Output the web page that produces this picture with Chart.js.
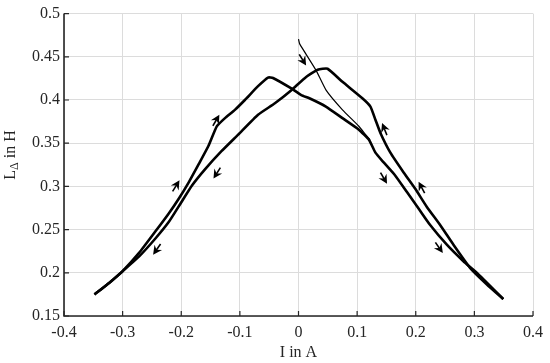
<!DOCTYPE html>
<html>
<head>
<meta charset="utf-8">
<script src="https://cdn.jsdelivr.net/npm/chart.js@4/dist/chart.umd.min.js"></script>
<style>
  html, body { margin: 0; padding: 0; background: #ffffff; }
  #wrap { width: 550px; height: 363px; position: relative; }
</style>
</head>
<body>
<div id="wrap"><canvas id="c" width="550" height="363"></canvas></div>
<script>
// ---- data ----
// Branch with increasing current (-0.35 -> +0.35)
const riseX = [-0.348, -0.3225, -0.300, -0.272, -0.244, -0.221, -0.204, -0.187, -0.170, -0.1535, -0.1394, -0.1254, -0.1085, -0.0915, -0.069, -0.052, -0.0435, -0.0122, 0.0047, 0.0186, 0.0467, 0.075, 0.103, 0.1202, 0.1312, 0.1453, 0.1652, 0.185, 0.2048, 0.2246, 0.253, 0.2813, 0.304, 0.3493];
const riseY = [0.175, 0.1886, 0.202, 0.223, 0.248, 0.269, 0.286, 0.305, 0.326, 0.347, 0.3695, 0.379, 0.3886, 0.400, 0.416, 0.426, 0.4255, 0.4134, 0.4057, 0.402, 0.3924, 0.379, 0.3657, 0.354, 0.3391, 0.3277, 0.3124, 0.2934, 0.2744, 0.2553, 0.2325, 0.2134, 0.2001, 0.1696];
// Branch with decreasing current (+0.35 -> -0.35)
const fallX = [0.3493, 0.321, 0.2926, 0.2643, 0.2416, 0.219, 0.1992, 0.1793, 0.1567, 0.1397, 0.1312, 0.1227, 0.1089, 0.075, 0.0496, 0.0327, 0.013, -0.0122, -0.0403, -0.069, -0.1028, -0.131, -0.1592, -0.1817, -0.2014, -0.2211, -0.2437, -0.2718, -0.300, -0.3225, -0.348];
const fallY = [0.1696, 0.1868, 0.2058, 0.2325, 0.2553, 0.2762, 0.2972, 0.3162, 0.3391, 0.3619, 0.3772, 0.3924, 0.402, 0.421, 0.4362, 0.435, 0.4267, 0.4114, 0.3962, 0.383, 0.360, 0.341, 0.320, 0.301, 0.280, 0.259, 0.240, 0.219, 0.2019, 0.1886, 0.175];
// Initial (virgin) curve
const initX = [0.000, 0.002, 0.030, 0.047, 0.075, 0.103, 0.1145, 0.122];
const initY = [0.4705, 0.465, 0.4343, 0.4114, 0.3886, 0.3696, 0.360, 0.354];
// Direction arrows: tip position and screen direction (degrees)
const arrowX = [-0.135, -0.203, -0.145, -0.248, 0.013, 0.1425, 0.151, 0.2048, 0.2462];
const arrowY = [0.383, 0.307, 0.309, 0.221, 0.440, 0.3733, 0.303, 0.3055, 0.2229];
const arrowDir = [-60, -58, 122, 125, 58, -112, 60, -118, 55];
// Axes
const xMin = -0.4, xMax = 0.4, xStep = 0.1;
const yMin = 0.15, yMax = 0.5, yStep = 0.05;
const xTitle = "I in A";
const yTitleMain = "L", yTitleSub = "\u0394", yTitleRest = " in H";

const toPts = (xs, ys) => xs.map((x, i) => ({ x: x, y: ys[i] }));
const AXIS = '#262626';
const FONT = '"Liberation Serif", "Times New Roman", serif';

const arrowPlugin = {
  id: 'arrows',
  afterDatasetsDraw(chart) {
    const ctx = chart.ctx, xs = chart.scales.x, ys = chart.scales.y;
    ctx.save();
    ctx.fillStyle = '#000';
    ctx.strokeStyle = '#000';
    ctx.lineWidth = 1.6;
    for (let i = 0; i < arrowX.length; i++) {
      const px = xs.getPixelForValue(arrowX[i]);
      const py = ys.getPixelForValue(arrowY[i]);
      ctx.save();
      ctx.translate(px, py);
      ctx.rotate(arrowDir[i] * Math.PI / 180);
      ctx.beginPath();
      ctx.moveTo(-5, 0);
      ctx.lineTo(-13, 0);
      ctx.stroke();
      ctx.beginPath();
      ctx.moveTo(0, 0);
      ctx.lineTo(-9, -4.6);
      ctx.lineTo(-6, 0);
      ctx.lineTo(-9, 4.6);
      ctx.closePath();
      ctx.fill();
      ctx.restore();
    }
    ctx.restore();
  }
};

const axesPlugin = {
  id: 'matlabAxes',
  afterDraw(chart) {
    const ctx = chart.ctx, xs = chart.scales.x, ys = chart.scales.y;
    const a = chart.chartArea;
    ctx.save();
    ctx.strokeStyle = AXIS;
    ctx.lineWidth = 1.6;
    // axis lines
    ctx.beginPath();
    ctx.moveTo(a.left, a.top);
    ctx.lineTo(a.left, a.bottom);
    ctx.lineTo(a.right, a.bottom);
    ctx.stroke();
    // inward ticks
    ctx.lineWidth = 1.2;
    ctx.beginPath();
    xs.ticks.forEach(t => {
      const p = xs.getPixelForValue(t.value);
      ctx.moveTo(p, a.bottom);
      ctx.lineTo(p, a.bottom - 5);
    });
    ys.ticks.forEach(t => {
      const p = ys.getPixelForValue(t.value);
      ctx.moveTo(a.left, p);
      ctx.lineTo(a.left + 5, p);
    });
    ctx.stroke();
    // axis titles
    ctx.fillStyle = AXIS;
    ctx.font = '16px ' + FONT;
    ctx.textAlign = 'center';
    ctx.textBaseline = 'alphabetic';
    ctx.fillText(xTitle, (a.left + a.right) / 2, 357);
    // y title with subscript
    ctx.translate(15, 155);
    ctx.rotate(-Math.PI / 2);
    const mainFont = '16px ' + FONT, subFont = '12px ' + FONT;
    ctx.font = mainFont;
    const w1 = ctx.measureText(yTitleMain).width;
    const w3 = ctx.measureText(yTitleRest).width;
    ctx.font = subFont;
    const w2 = ctx.measureText(yTitleSub).width;
    let x0 = -(w1 + w2 + w3) / 2;
    ctx.textAlign = 'left';
    ctx.font = mainFont;
    ctx.fillText(yTitleMain, x0, 0);
    ctx.font = subFont;
    ctx.fillText(yTitleSub, x0 + w1, 3);
    ctx.font = mainFont;
    ctx.fillText(yTitleRest, x0 + w1 + w2, 0);
    ctx.restore();
  }
};

const fmt = v => String(Number(v.toFixed(2)));

new Chart(document.getElementById('c'), {
  type: 'scatter',
  data: {
    datasets: [
      { data: toPts(riseX, riseY), showLine: true, borderColor: '#000', borderWidth: 2.6, pointRadius: 0, tension: 0.15, fill: false },
      { data: toPts(fallX, fallY), showLine: true, borderColor: '#000', borderWidth: 2.6, pointRadius: 0, tension: 0.15, fill: false },
      { data: toPts(initX, initY), showLine: true, borderColor: '#000', borderWidth: 1.2, pointRadius: 0, tension: 0.15, fill: false }
    ]
  },
  options: {
    responsive: false,
    animation: false,
    devicePixelRatio: 1,
    layout: { padding: { left: 0, right: 13, top: 9, bottom: 0 } },
    plugins: { legend: { display: false }, tooltip: { enabled: false } },
    scales: {
      x: {
        type: 'linear', min: xMin, max: xMax,
        afterFit: s => { s.height = 47; },
        grid: { color: '#dcdcdc', lineWidth: 1, drawTicks: false },
        border: { display: false },
        ticks: { stepSize: xStep, color: AXIS, padding: 7, font: { family: FONT, size: 16 }, callback: fmt, maxRotation: 0, autoSkip: false }
      },
      y: {
        type: 'linear', min: yMin, max: yMax,
        afterFit: s => { s.width = 64; },
        grid: { color: '#dcdcdc', lineWidth: 1, drawTicks: false },
        border: { display: false },
        ticks: { stepSize: yStep, color: AXIS, padding: 4, font: { family: FONT, size: 16 }, callback: fmt, autoSkip: false }
      }
    }
  },
  plugins: [arrowPlugin, axesPlugin]
});
</script>
</body>
</html>
